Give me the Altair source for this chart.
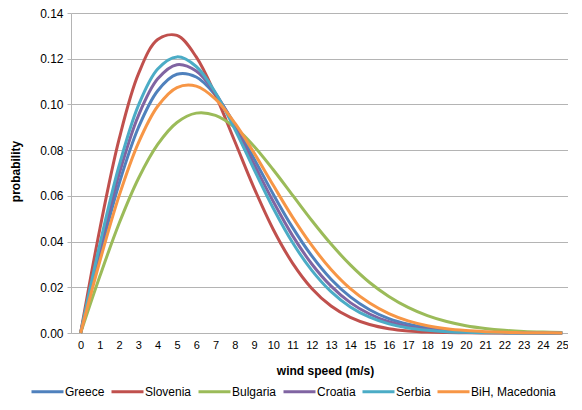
import altair as alt
import pandas as pd

speeds = list(range(26))
countries = ["Greece", "Slovenia", "Bulgaria", "Croatia", "Serbia", "BiH, Macedonia"]
colors = ["#4F81BD", "#C0504D", "#9BBB59", "#8064A2", "#4BACC6", "#F79646"]

greece = [0, 0.0345, 0.0654, 0.0899, 0.1060, 0.1132, 0.1120, 0.1040, 0.0913, 0.0763,
          0.0607, 0.0462, 0.0337, 0.0235, 0.0158, 0.0102, 0.0063, 0.0038, 0.0022, 0.0012,
          0.0006, 0.0003, 0.00016, 0.00008, 0.00003, 0.00002]
slovenia = [0, 0.0456, 0.0849, 0.1134, 0.1284, 0.1302, 0.1208, 0.1041, 0.0839, 0.0635,
            0.0453, 0.0306, 0.0195, 0.0118, 0.0068, 0.0037, 0.0019, 0.0009, 0.0004, 0.0002,
            0.0001, 0.00003, 0.00001, 0, 0, 0]
bulgaria = [0, 0.0249, 0.0480, 0.0676, 0.0825, 0.0921, 0.0962, 0.0952, 0.0900, 0.0817,
            0.0714, 0.0603, 0.0492, 0.0389, 0.0298, 0.0221, 0.0160, 0.0112, 0.0076, 0.0050,
            0.0032, 0.0020, 0.0012, 0.0007, 0.0004, 0.0002]
croatia = [0, 0.0368, 0.0696, 0.0951, 0.1112, 0.1174, 0.1146, 0.1048, 0.0904, 0.0739,
           0.0575, 0.0426, 0.0302, 0.0205, 0.0133, 0.0083, 0.0049, 0.0028, 0.0016, 0.0008,
           0.0004, 0.0002, 0.0001, 0.00004, 0.00002, 0.00001]
serbia = [0, 0.0389, 0.0733, 0.0996, 0.1155, 0.1208, 0.1166, 0.1051, 0.0892, 0.0716,
          0.0546, 0.0396, 0.0274, 0.0181, 0.0114, 0.0069, 0.0040, 0.0022, 0.0012, 0.0006,
          0.0003, 0.0001, 0.00006, 0.00002, 0.00001, 0]
bih_macedonia = [0, 0.0315, 0.0601, 0.0832, 0.0992, 0.1074, 0.1080, 0.1023, 0.0919, 0.0788,
                 0.0646, 0.0507, 0.0383, 0.0278, 0.0194, 0.0131, 0.0085, 0.0053, 0.0032, 0.0019,
                 0.0011, 0.0006, 0.0003, 0.00015, 0.00008, 0.00004]

y_ticks = [0, 0.02, 0.04, 0.06, 0.08, 0.10, 0.12, 0.14]

series = [greece, slovenia, bulgaria, croatia, serbia, bih_macedonia]

color_scale = alt.Scale(domain=countries, range=colors)
x_scale = alt.Scale(domain=[-0.5, 25.3], nice=False, zero=False)
y_scale = alt.Scale(domain=[0, 0.14], nice=False)

x_axis = alt.Axis(values=speeds, title="wind speed (m/s)", grid=False, ticks=False,
                  labelAngle=0, labelFontSize=11, labelPadding=6, labelColor="#000000",
                  domainColor="#b4b4b4", titleFontSize=12, titleFontWeight="bold",
                  titleX=254, titleY=37, titleBaseline="middle", titleColor="#000000")
y_axis = alt.Axis(values=y_ticks, format=".2f", title="probability", grid=True,
                  gridColor="#b4b4b4", gridWidth=1, tickColor="#b4b4b4", tickSize=4,
                  labelFontSize=12, labelPadding=4, labelColor="#000000",
                  domainColor="#b4b4b4", titleFontSize=12, titleFontWeight="bold",
                  titleX=-56, titleY=158, titleAngle=-90, titleBaseline="middle",
                  titleColor="#000000")

legend = alt.Legend(title=None, orient="none", legendX=-41, legendY=361,
                    direction="horizontal", columns=6, symbolType="stroke",
                    symbolSize=1024, symbolStrokeWidth=3, labelFontSize=12,
                    labelOffset=0, columnPadding=0, labelColor="#000000")

layers = []
for name, vals in zip(countries, series):
    df = pd.DataFrame({"speed": speeds, "probability": vals, "country": name})
    layers.append(
        alt.Chart(df).mark_line(strokeWidth=3, interpolate="catmull-rom").encode(
            x=alt.X("speed:Q", scale=x_scale, axis=x_axis),
            y=alt.Y("probability:Q", scale=y_scale, axis=y_axis),
            color=alt.Color("country:N", scale=color_scale, legend=legend),
        )
    )

chart = alt.layer(*layers).properties(
    width=497, height=320,
    autosize=alt.AutoSizeParams(type="none"),
    padding={"left": 63, "top": 5, "right": 0, "bottom": 67},
).configure(font="Liberation Sans").configure_view(strokeWidth=0)

chart.save("out.html", embed_options={"renderer": "svg", "actions": False})
